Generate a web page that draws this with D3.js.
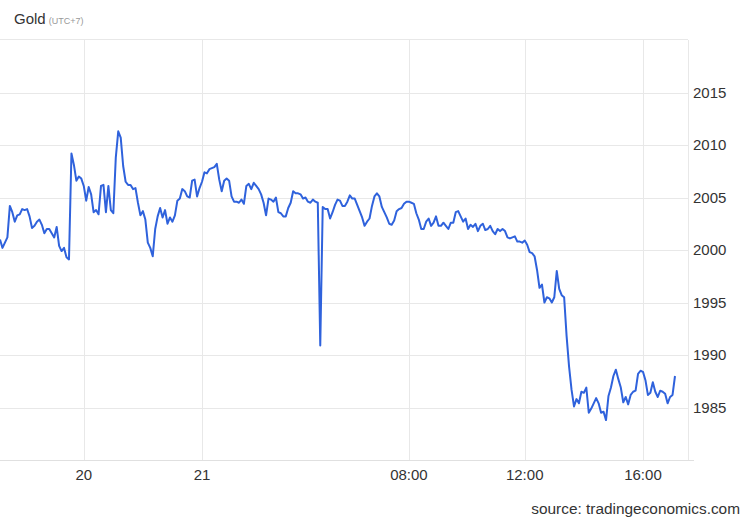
<!DOCTYPE html>
<html>
<head>
<meta charset="utf-8">
<script src="https://cdn.jsdelivr.net/npm/d3@7"></script>
<style>
  html, body { margin: 0; padding: 0; background: #fff; }
  svg { display: block; font-family: Arial, "Liberation Sans", sans-serif; }
</style>
</head>
<body>
<svg id="chart" width="750" height="520"></svg>
<script>
// ---- data (5-minute steps) ----
const title = "Gold";
const subtitle = "(UTC+7)";
const source = "source: tradingeconomics.com";

const prices = [
  2001.0, 2000.2, 2000.7, 2001.2, 2004.2, 2003.6, 2002.7, 2003.3, 2003.4, 2003.9,
  2003.8, 2003.9, 2003.2, 2002.1, 2002.3, 2002.7, 2002.9, 2002.4, 2001.6, 2002.0,
  2002.0, 2001.6, 2001.2, 2002.2, 2000.4, 1999.9, 2000.2, 1999.3, 1999.1, 2009.2,
  2008.1, 2006.6, 2007.0, 2006.8, 2006.1, 2004.7, 2006.0, 2005.3, 2003.6, 2003.8,
  2003.4, 2006.1, 2006.2, 2003.6, 2006.1, 2003.8, 2003.5, 2008.8, 2011.3, 2010.7,
  2008.0, 2006.5, 2006.2, 2006.2, 2005.8, 2005.9, 2004.5,
  2003.3, 2003.7, 2002.9, 2000.7, 2000.2, 1999.4, 2002.0, 2003.2, 2004.0, 2003.1,
  2003.8, 2002.5, 2003.1, 2002.7, 2003.3, 2004.7, 2004.9, 2005.8, 2005.6, 2005.1,
  2005.0, 2006.6, 2006.7, 2005.1, 2005.9, 2006.5, 2007.4, 2007.3, 2007.7, 2007.8,
  2007.9, 2008.2, 2006.7, 2005.6, 2006.6, 2006.8, 2006.6, 2005.1, 2004.6, 2004.6,
  2004.5, 2004.8, 2004.4, 2006.1, 2006.3, 2005.8, 2006.4, 2006.1, 2005.8, 2005.3,
  2004.5, 2003.3, 2004.9, 2004.8,
  2004.6, 2005.0, 2003.6, 2003.5, 2003.2, 2003.2, 2004.0, 2004.5, 2005.6, 2005.4,
  2005.4, 2005.3, 2004.9, 2005.0, 2004.6, 2004.5, 2004.8, 2004.6, 2004.5, 1990.9,
  2004.1, 2003.9, 2003.9, 2003.0, 2003.6, 2004.3, 2004.8, 2004.7, 2004.2, 2004.2,
  2004.6, 2005.2, 2004.9, 2004.9, 2004.3, 2003.7, 2003.1, 2002.3, 2002.7, 2003.0,
  2004.2, 2005.1, 2005.4, 2005.1, 2004.1, 2003.6, 2003.1, 2002.5, 2002.4, 2002.8,
  2003.7, 2003.9, 2004.0, 2004.4, 2004.6,
  2004.6, 2004.5, 2004.4, 2003.5, 2002.9, 2002.0, 2002.0, 2002.7, 2003.0, 2002.3,
  2002.6, 2003.2, 2002.3, 2002.3, 2002.6, 2002.3, 2002.0, 2002.6, 2002.6, 2003.6,
  2003.7, 2003.2, 2002.7, 2003.0, 2002.0, 2002.4, 2002.2, 2002.5, 2001.8, 2002.3,
  2002.5, 2001.9, 2002.0, 2002.3, 2001.8, 2001.5, 2002.0, 2001.8, 2002.0, 2001.8,
  2001.2, 2001.1, 2001.2, 2001.3, 2000.8, 2000.8, 2000.7, 2000.9, 2000.5, 1999.8,
  1999.7, 1999.4, 1998.1, 1996.4, 1996.7, 1995.0,
  1995.5, 1995.4, 1995.0, 1995.5, 1998.0, 1996.3, 1995.7, 1995.5, 1991.8, 1988.9,
  1986.7, 1985.1, 1985.8, 1985.4, 1986.5, 1986.4, 1986.9, 1984.5, 1984.9, 1985.4,
  1985.9, 1985.4, 1984.5, 1984.6, 1983.8, 1986.1, 1986.9, 1988.0, 1988.6, 1987.7,
  1986.9, 1985.5, 1986.0, 1985.3, 1986.2, 1986.5, 1986.6, 1988.2, 1988.5, 1988.4,
  1987.6, 1986.2, 1986.4, 1987.4, 1986.5, 1986.0, 1986.6, 1986.5, 1986.3, 1985.4,
  1986.0, 1986.2, 1988.0
];

const xTickIndex  = [34, 82, 166, 213, 261];
const xTickLabels = ["20", "21", "08:00", "12:00", "16:00"];
const yTicks      = [1985, 1990, 1995, 2000, 2005, 2010, 2015];

// ---- layout ----
const svg = d3.select("#chart");
const plot = { left: 0, right: 688, top: 40, bottom: 460 };

const x = d3.scaleLinear()
  .domain([0, prices.length - 1])
  .range([plot.left, 675]);
const y = d3.scaleLinear()
  .domain([1980, 2020])
  .range([plot.bottom, plot.top]);

const gridColor = "#e8e8e8";

// horizontal grid
svg.append("g")
  .selectAll("line")
  .data(yTicks)
  .join("line")
  .attr("x1", plot.left).attr("x2", plot.right)
  .attr("y1", d => Math.round(y(d)) + 0.5).attr("y2", d => Math.round(y(d)) + 0.5)
  .attr("stroke", gridColor).attr("stroke-width", 1);

// vertical grid
svg.append("g")
  .selectAll("line")
  .data(xTickIndex)
  .join("line")
  .attr("x1", d => Math.round(x(d)) + 0.5).attr("x2", d => Math.round(x(d)) + 0.5)
  .attr("y1", plot.top).attr("y2", plot.bottom)
  .attr("stroke", gridColor).attr("stroke-width", 1);

// frame: top line, right border, bottom axis line
svg.append("line")
  .attr("x1", 0).attr("x2", plot.right)
  .attr("y1", plot.top - 0.5).attr("y2", plot.top - 0.5)
  .attr("stroke", gridColor);
svg.append("line")
  .attr("x1", plot.right + 0.5).attr("x2", plot.right + 0.5)
  .attr("y1", plot.top).attr("y2", plot.bottom)
  .attr("stroke", gridColor);
svg.append("line")
  .attr("x1", 0).attr("x2", 694)
  .attr("y1", plot.bottom + 0.5).attr("y2", plot.bottom + 0.5)
  .attr("stroke", "#e0e0e0");

// y labels
svg.append("g")
  .selectAll("text")
  .data(yTicks)
  .join("text")
  .attr("x", 693)
  .attr("y", d => y(d))
  .attr("dy", "0.35em")
  .attr("font-size", 15)
  .attr("fill", "#333")
  .text(d => d);

// x labels
svg.append("g")
  .selectAll("text")
  .data(xTickIndex)
  .join("text")
  .attr("x", d => x(d))
  .attr("y", 480)
  .attr("text-anchor", "middle")
  .attr("font-size", 15)
  .attr("fill", "#333")
  .text((d, i) => xTickLabels[i]);

// line
const line = d3.line()
  .x((d, i) => x(i))
  .y(d => y(d));

svg.append("path")
  .datum(prices)
  .attr("fill", "none")
  .attr("stroke", "#2f62dc")
  .attr("stroke-width", 2)
  .attr("stroke-linejoin", "round")
  .attr("d", line);

// title
const t = svg.append("text")
  .attr("x", 14).attr("y", 24)
  .attr("font-size", 15)
  .attr("fill", "#333");
t.append("tspan").text(title);
t.append("tspan").attr("dx", 3).attr("font-size", 9).attr("fill", "#999").text(subtitle);

// source
svg.append("text")
  .attr("x", 740).attr("y", 514)
  .attr("text-anchor", "end")
  .attr("font-size", 15.4)
  .attr("fill", "#333")
  .text(source);
</script>
</body>
</html>
